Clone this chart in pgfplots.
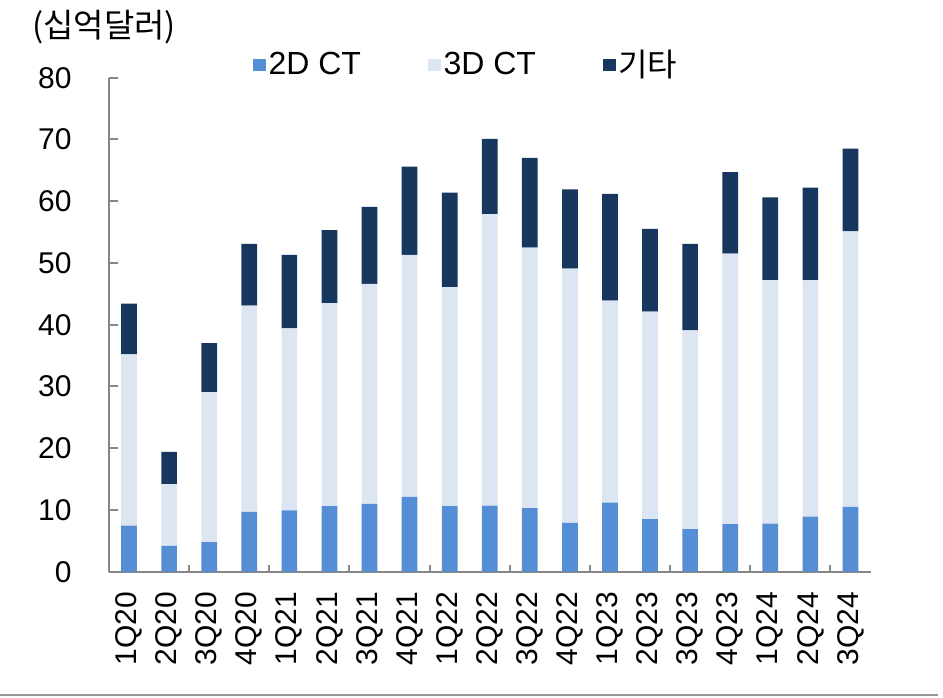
\documentclass[border=0pt]{standalone}
\usepackage{fontspec}
\setmainfont{Liberation Sans}
\newfontfamily\kr{Noto Sans CJK KR}
\usepackage{pgfplots}
\usepackage{pgfplotstable}
\pgfplotsset{compat=1.18}
\definecolor{c2d}{RGB}{85,142,213}
\definecolor{c3d}{RGB}{220,230,242}
\definecolor{cet}{RGB}{23,55,94}
\definecolor{axg}{RGB}{134,134,134}
\pgfplotstableread{
x a b c
0 7.45 27.75 8.2
1 4.2 10.0 5.2
2 4.8 24.3 7.9
3 9.7 33.4 10.0
4 9.95 29.45 11.9
5 10.6 32.9 11.8
6 11.0 35.6 12.5
7 12.1 39.2 14.3
8 10.6 35.5 15.3
9 10.7 47.2 12.2
10 10.3 42.2 14.5
11 7.9 41.2 12.8
12 11.2 32.7 17.3
13 8.5 33.6 13.4
14 6.9 32.2 14.0
15 7.7 43.8 13.2
16 7.8 39.4 13.4
17 8.9 38.3 15.0
18 10.5 44.6 13.4
}\data
\pgfplotsset{sq/.style={legend image code/.code={\fill[##1] (0pt,-3.1pt) rectangle (6.25pt,3.1pt);}}}
\begin{document}
\begin{tikzpicture}
\begin{axis}[
  at={(0,0)}, anchor=south west,
  scale only axis, width=380.75pt, height=247pt,
  ybar stacked, bar width=7.85pt,
  xmin=-0.5, xmax=18.5, ymin=0, ymax=80,
  axis lines*=left,
  axis line style={axg, line width=1pt},
  every tick/.style={axg, line width=1pt},
  tick align=inside,
  major tick length=4.5pt, minor tick length=3.5pt,
  ytick={0,10,...,80},
  xtick={0,...,18},
  xticklabels={1Q20,2Q20,3Q20,4Q20,1Q21,2Q21,3Q21,4Q21,1Q22,2Q22,3Q22,4Q22,1Q23,2Q23,3Q23,4Q23,1Q24,2Q24,3Q24},
  minor xtick={1.5,3.5,...,17.5},
  major x tick style={draw=none},
  /pgf/number format/assume math mode=true,
  ticklabel style={font=\fontsize{15}{18}\selectfont},
  yticklabel style={anchor=east, inner sep=0pt, xshift=-18.5pt},
  xticklabel style={rotate=90, anchor=east, inner sep=0pt},
  xticklabel shift=10pt,
  legend columns=3,
  legend style={draw=none, fill=none, inner sep=0pt, at={(0.1887,1.0257)}, anchor=west,
    font=\fontsize{16}{19}\selectfont, nodes={inner xsep=1.5pt, inner ysep=0pt},
    /tikz/every even column/.append style={column sep=32pt}},
  legend cell align=left,
]
\addplot[fill=c2d, draw=none, sq] table[x=x, y=a] {\data};
\addplot[fill=c3d, draw=none, sq] table[x=x, y=b] {\data};
\addplot[fill=cet, draw=none, sq] table[x=x, y=c] {\data};
\legend{2D CT, 3D CT, {\kr 기타}}
\end{axis}
\node[anchor=west, inner sep=0pt, font=\fontsize{16.5}{19}\selectfont\kr] at (-38.5pt,272.35pt) {(십억달러)};
\draw[color={rgb,255:red,150;green,150;blue,150}, line width=1pt] (-54.5pt,-61.65pt) -- (414.5pt,-61.65pt);
\pgfresetboundingbox
\useasboundingbox (-54.5pt,-62.65pt) rectangle (417pt,285.85pt);
\end{tikzpicture}
\end{document}
